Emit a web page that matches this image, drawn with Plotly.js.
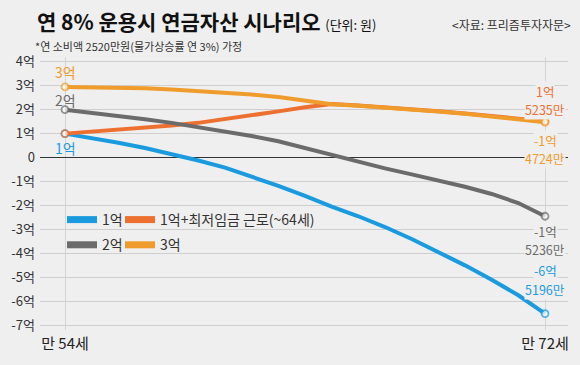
<!DOCTYPE html>
<html>
<head>
<meta charset="utf-8">
<script src="https://cdn.plot.ly/plotly-3.0.1.min.js"></script>
<style>html,body{margin:0;padding:0;background:#efefef;}#chart{width:580px;height:365px;}</style>
</head>
<body>
<div id="chart"></div>
<script>
// ---- data (억 원) ----
var ages = [54,55,56,57,58,59,60,61,62,63,64,65,66,67,68,69,70,71,72];
var seriesNames = ['1억', '1억+최저임금 근로(~64세)', '2억', '3억'];
var v1억 = [1.00,0.82,0.62,0.40,0.15,-0.12,-0.42,-0.78,-1.18,-1.60,-2.05,-2.45,-2.90,-3.40,-3.95,-4.50,-5.10,-5.75,-6.52];
var v1억근로 = [1.00,1.08,1.16,1.24,1.34,1.45,1.60,1.75,1.93,2.10,2.24,2.17,2.10,2.02,1.93,1.84,1.74,1.63,1.52];
var v2억 = [2.00,1.88,1.75,1.60,1.45,1.28,1.10,0.90,0.68,0.40,0.10,-0.20,-0.45,-0.70,-0.95,-1.22,-1.52,-1.90,-2.45];
var v3억 = [2.95,2.94,2.92,2.89,2.84,2.78,2.71,2.63,2.53,2.40,2.23,2.16,2.09,2.01,1.92,1.83,1.72,1.61,1.48];
var startLabels = ['1억', '', '2억', '3억'];
var endLabelsTop = ['-6억', '1억', '-1억', '-1억'];
var endLabelsBottom = ['5196만', '5235만', '5236만', '4724만'];
var yTickVals = [-7,-6,-5,-4,-3,-2,-1,0,1,2,3,4];
var yTickText = ['-7억','-6억','-5억','-4억','-3억','-2억','-1억','0','1억','2억','3억','4억'];
var xTickVals = [54, 72];
var xTickText = ['만 54세', '만 72세'];

// ---- styles ----
var FONT = '"Noto Sans CJK KR", "Noto Sans", sans-serif';
var colors = ['#1a9be0', '#ee7030', '#6b6b6b', '#f09c2c'];
var values = [v1억, v1억근로, v2억, v3억];
var legendOf = ['legend', 'legend2', 'legend', 'legend2'];

var n = ages.length;
var msize = ages.map(function(_, i){ return (i === 0 || i === n-1) ? 7 : 0; });

var traces = [];
values.forEach(function(v, k){
  traces.push({
    type: 'scatter', mode: 'lines+markers', x: ages, y: v, name: seriesNames[k],
    line: {color: colors[k], width: 4},
    marker: {size: msize, color: '#ffffff', line: {color: colors[k], width: 1.8}},
    showlegend: false, hoverinfo: 'skip', cliponaxis: false
  });
});
// legend entries
values.forEach(function(v, k){
  traces.push({
    type: 'scatter', mode: 'lines', x: [null], y: [null], name: seriesNames[k],
    line: {color: colors[k], width: 7},
    showlegend: true, legend: legendOf[k], legendgroup: 'g' + k
  });
});

var annotations = [];
// start labels (pixel shifts from the first point)
var startShift = [-14, 0, 10, 15];
values.forEach(function(v, k){
  if (!startLabels[k]) return;
  annotations.push({
    x: ages[0], y: v[0], xref: 'x', yref: 'y', text: startLabels[k], showarrow: false,
    xanchor: 'center', yanchor: 'middle', yshift: startShift[k],
    font: {family: FONT, size: 14, color: colors[k]}
  });
});
// end labels (two lines each, pixel shifts from the last point)
var endShiftTop = [42.8, 29.8, -15.2, -17.9];
var endShiftBottom = [24.6, 11.6, -33.4, -36.1];
values.forEach(function(v, k){
  annotations.push({
    x: ages[n-1], y: v[n-1], xref: 'x', yref: 'y', text: endLabelsTop[k], showarrow: false,
    xanchor: 'center', yanchor: 'middle', yshift: endShiftTop[k],
    bgcolor: '#efefef', borderpad: 0,
    font: {family: FONT, size: 12.5, color: colors[k]}
  });
  annotations.push({
    x: ages[n-1], y: v[n-1], xref: 'x', yref: 'y', text: endLabelsBottom[k], showarrow: false,
    xanchor: 'center', yanchor: 'middle', yshift: endShiftBottom[k],
    bgcolor: '#efefef', borderpad: 0,
    font: {family: FONT, size: 12.5, color: colors[k]}
  });
});
// subtitle & source
annotations.push({
  xref: 'paper', yref: 'paper', x: (33-40)/528, y: (330-46)/273, xanchor: 'left', yanchor: 'middle',
  text: '*연 소비액 2520만원(물가상승률 연 3%) 가정', showarrow: false,
  font: {family: FONT, size: 11, color: '#333333'}
});
annotations.push({
  xref: 'paper', yref: 'paper', x: (573-40)/528, y: (330-25)/273, xanchor: 'right', yanchor: 'middle',
  text: '&lt;자료: 프리즘투자자문&gt;', showarrow: false,
  font: {family: FONT, size: 12, color: '#333333'}
});

var layout = {
  width: 580, height: 365,
  paper_bgcolor: '#efefef', plot_bgcolor: '#efefef',
  margin: {l: 40, r: 12, t: 57, b: 35},
  font: {family: FONT, color: '#333333'},
  title: {
    text: '<b>연 8% 운용시 연금자산 시나리오</b> <span style="font-size:13px">(단위: 원)</span>',
    x: 37/580, xanchor: 'left', xref: 'container',
    y: 1 - 23/365, yanchor: 'middle', yref: 'container',
    font: {family: FONT, size: 21, color: '#111111'}
  },
  xaxis: {
    range: [53.0625, 72.8625], tickvals: xTickVals, ticktext: xTickText,
    showgrid: true, gridcolor: '#d4d4d4', gridwidth: 1, zeroline: false,
    showline: false, ticks: '', ticklabelstandoff: 3,
    tickfont: {family: FONT, size: 15, color: '#222222'},
    fixedrange: true
  },
  yaxis: {
    range: [-7.2, 4.2], tickvals: yTickVals, ticktext: yTickText,
    showgrid: true, gridcolor: '#cfcfcf', gridwidth: 1,
    zeroline: true, zerolinecolor: '#333333', zerolinewidth: 1.5,
    showline: false, ticks: '', ticklabelstandoff: 4,
    tickfont: {family: FONT, size: 13, color: '#333333'}, fixedrange: true
  },
  legend: {
    x: (62-40)/528, xref: 'paper', xanchor: 'left', y: (330-204)/273, yanchor: 'top',
    bgcolor: 'rgba(0,0,0,0)', borderwidth: 0, tracegroupgap: 4, itemwidth: 30,
    font: {family: FONT, size: 14, color: '#333333'}
  },
  legend2: {
    x: (120-40)/528, xref: 'paper', xanchor: 'left', y: (330-204)/273, yanchor: 'top',
    bgcolor: 'rgba(0,0,0,0)', borderwidth: 0, tracegroupgap: 4, itemwidth: 30,
    font: {family: FONT, size: 14, color: '#333333'}
  },
  annotations: annotations,
  showlegend: true
};

Plotly.newPlot('chart', traces, layout, {displayModeBar: false, staticPlot: true});
</script>
</body>
</html>
